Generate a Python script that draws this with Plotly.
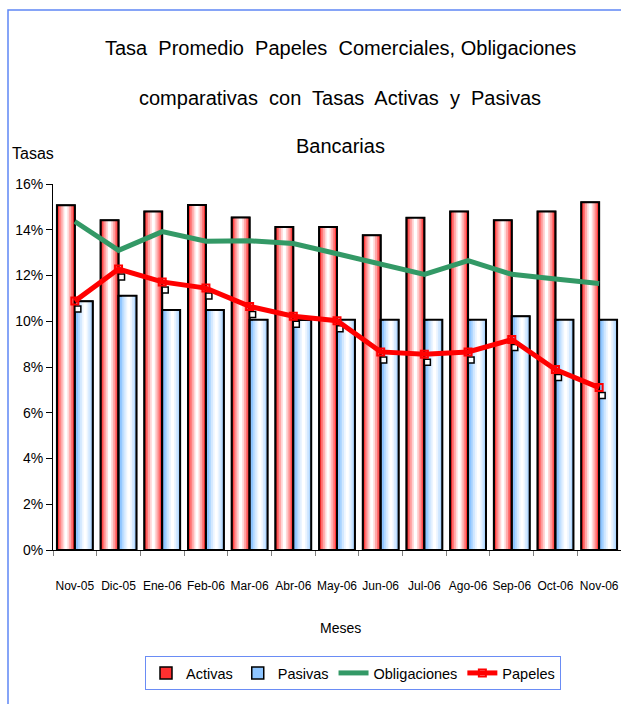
import plotly.graph_objects as go

meses = ['Nov-05', 'Dic-05', 'Ene-06', 'Feb-06', 'Mar-06', 'Abr-06', 'May-06',
         'Jun-06', 'Jul-06', 'Ago-06', 'Sep-06', 'Oct-06', 'Nov-06']
activas = [15.07, 14.41, 14.80, 15.08, 14.54, 14.12, 14.12, 13.76, 14.53, 14.80, 14.41, 14.80, 15.20]
pasivas = [10.87, 11.12, 10.49, 10.49, 10.07, 10.05, 10.07, 10.07, 10.07, 10.07, 10.22, 10.07, 10.07]
obligaciones = [14.36, 13.10, 13.92, 13.50, 13.52, 13.40, 12.95, 12.50, 12.05, 12.65, 12.05, 11.85, 11.65]
papeles = [10.88, 12.28, 11.72, 11.45, 10.65, 10.22, 10.02, 8.66, 8.56, 8.66, 9.20, 7.89, 7.10]

FONT = "Liberation Sans, Arial, sans-serif"

W, H = 621, 704
L, R, T, B = 53, 0, 184, 704 - 550
pw = W - L - R
ph = H - T - B


def px_x(p):
    return (p - L) / pw


def px_y(p):
    return (H - B - p) / ph


fig = go.Figure()


def cylinder(vals, name, start, colors, shift, rank):
    # overlaid bars of shrinking width fake the cylinder gradient
    w_out = 0.41
    widths = [0.41, 0.32, 0.24, 0.15, 0.07]
    for i, (w, c) in enumerate(zip(widths, colors)):
        center = start + w_out / 2 + (shift if i > 0 else 0)
        fig.add_trace(go.Bar(
            x=meses, y=vals, name=name,
            width=w, offset=center - w / 2,
            marker=dict(color=c, line=dict(width=1.5 if i == 0 else 0, color='black')),
            showlegend=(i == 0), legendrank=rank, hoverinfo='skip',
        ))
    fig.add_trace(go.Bar(
        x=meses, y=vals, name=name, width=w_out, offset=start,
        marker=dict(color='rgba(0,0,0,0)', line=dict(width=2, color='black')),
        showlegend=False, hoverinfo='skip',
    ))


cylinder(activas, 'Activas', -0.41,
         ['#FF3030', '#FF7070', '#FFA8A8', '#FFD8D8', '#FFFFFF'], 0.0, 1)
cylinder(pasivas, 'Pasivas', 0.0,
         ['#8EC5FF', '#B2D8FF', '#D2E8FF', '#ECF5FF', '#FFFFFF'], 0.03, 2)

# shadow boxes under the Papeles markers (shifted axes)
fig.add_trace(go.Scatter(
    x=meses, y=papeles, mode='markers', xaxis='x2', yaxis='y2',
    marker=dict(symbol='square', size=6, color='white', line=dict(width=1.5, color='black')),
    showlegend=False, hoverinfo='skip',
))

fig.add_trace(go.Scatter(
    x=meses, y=obligaciones, name='Obligaciones', mode='lines', xaxis='x3', yaxis='y3',
    line=dict(color='#339966', width=5), legendrank=3,
))
fig.add_trace(go.Scatter(
    x=meses, y=papeles, name='Papeles', mode='lines+markers', xaxis='x3', yaxis='y3',
    line=dict(color='#FF0000', width=5),
    marker=dict(symbol='square-open', size=7, color='#FF0000', line=dict(width=2, color='#FF0000')),
    legendrank=4,
))

xr = [-0.5, 12.5]
yr = [0, 16]
dx = 3 / (pw / 13)
dy = 8 / (ph / 16)

fig.update_layout(
    width=W, height=H,
    margin=dict(l=L, r=R, t=T, b=B),
    paper_bgcolor='white', plot_bgcolor='white',
    barmode='overlay',
    font=dict(family=FONT, color='black', size=13),
    xaxis=dict(type='category', range=xr, showline=True, linecolor='black', linewidth=1,
               ticks='outside', tickson='boundaries', ticklen=5, tickcolor='#808080',
               tickangle=0, ticklabelstandoff=25, showgrid=False, tickfont=dict(size=12)),
    yaxis=dict(range=yr, dtick=2, ticksuffix='%', showline=True, linecolor='black', linewidth=1,
               ticks='outside', ticklen=6, tickcolor='black', showgrid=False, zeroline=False,
               tickfont=dict(size=14)),
    xaxis2=dict(type='category', overlaying='x', range=[xr[0] - dx, xr[1] - dx], visible=False,
                categoryarray=meses, categoryorder='array'),
    yaxis2=dict(overlaying='y', range=[yr[0] + dy, yr[1] + dy], visible=False),
    xaxis3=dict(type='category', overlaying='x', range=xr, visible=False,
                categoryarray=meses, categoryorder='array'),
    yaxis3=dict(overlaying='y', range=yr, visible=False),
    legend=dict(orientation='h', x=px_x(353), xanchor='center', y=px_y(656), yanchor='top',
                bgcolor='white', bordercolor='#6A8CF5', borderwidth=1,
                font=dict(size=14.5), traceorder='normal'),
    showlegend=True,
)

title_lines = ['Tasa\u00a0 Promedio\u00a0 Papeles\u00a0 Comerciales,\u00a0Obligaciones',
               'comparativas\u00a0 con\u00a0 Tasas\u00a0 Activas\u00a0 y\u00a0 Pasivas',
               'Bancarias']
for line, ypix in zip(title_lines, [48, 98, 146]):
    fig.add_annotation(text=line, xref='paper', yref='paper', x=px_x(340), y=px_y(ypix),
                       xanchor='center', yanchor='middle', showarrow=False,
                       font=dict(size=20, family=FONT))

fig.add_annotation(text='Tasas', xref='paper', yref='paper', x=px_x(33), y=px_y(153),
                   xanchor='center', yanchor='middle', showarrow=False, font=dict(size=16))
fig.add_annotation(text='Meses', xref='paper', yref='paper', x=px_x(340), y=px_y(628),
                   xanchor='center', yanchor='middle', showarrow=False, font=dict(size=14))

fig.add_shape(type='rect', xref='paper', yref='paper',
              x0=px_x(8), y0=-1, x1=1.3, y1=px_y(10),
              line=dict(color='#5F87F5', width=1.5), layer='below')

# drop the default 8px body margin so the figure fills the window exactly
fig.write_html("out.html", config={'displayModeBar': False},
               post_script="document.body.style.margin='0px';")
